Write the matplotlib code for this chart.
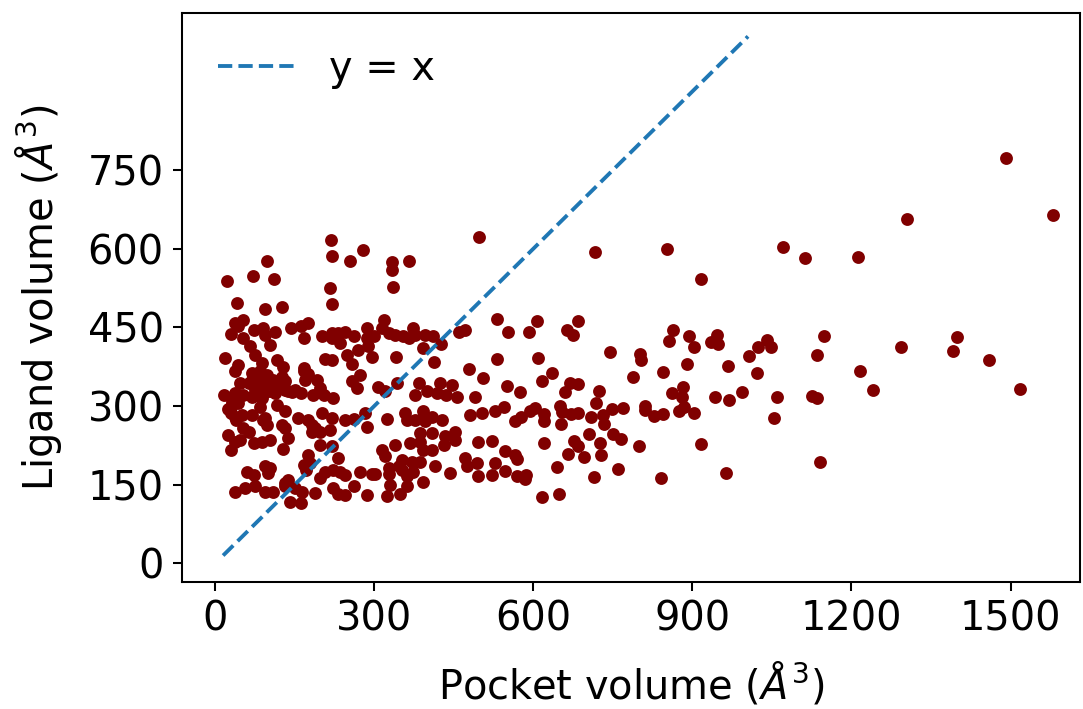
import numpy as np
import matplotlib
matplotlib.use("Agg")
import matplotlib.pyplot as plt

# pocket volume vs ligand volume (A^3)
pocket_volume = [
    # upper left group
    218, 220, 97, 72, 23, 111, 216, 42, 94, 126, 220, 53, 44, 30, 53, 73, 91, 94,
    113, 104, 66, 76, 144, 161, 176, 167, 201, 220, 18, 44, 88, 117, 128, 167, 208, 220,
    # dense lower left group
    38, 69, 85, 97, 126, 167, 47, 63, 79, 94, 110, 132, 151, 170, 192, 198, 16, 38, 53, 76,
    104, 123, 138, 161, 185, 205, 223, 29, 44, 85, 117, 132, 29, 40, 69, 91, 97, 157, 176, 188,
    201, 220, 53, 132, 182, 198, 216, 25, 47, 63, 38, 73, 88, 104, 138, 29, 128, 198, 220, 176,
    179, 94, 104, 60, 73, 100, 172, 208, 198, 138, 223, 167, 38, 56, 76, 94, 110, 132, 151, 164,
    188, 141, 161, 132, 223,
    # hidden in the blob
    85, 69, 110, 94, 31, 44, 69, 88, 113, 132, 145, 176, 25, 38, 50, 94, 126, 182, 38, 220,
    # 230 - 500, upper part
    498, 279, 255, 333, 333, 366, 335, 319, 286, 314, 327, 340, 355, 374, 377, 396, 411, 232,
    245, 262, 286, 299, 289, 236, 365, 459, 472, 426, 392, 270, 248, 258, 296, 341, 413, 478,
    # 230 - 500, lower part
    273, 258, 267, 308, 320, 343, 384, 377, 399, 418, 424, 446, 436, 456, 506, 490, 245, 262,
    283, 286, 324, 358, 361, 377, 392, 409, 396, 428, 481, 503, 387, 409, 434, 452, 368, 387,
    340, 314, 320, 392, 409, 431, 452, 496, 232, 352, 371, 387, 415, 327, 346, 472, 475, 494,
    236, 245, 273, 296, 302, 327, 352, 361, 374, 392, 443, 496, 262, 330, 361, 232, 245, 286,
    324, 349,
    # 500 - 930
    716, 853, 917, 531, 553, 591, 607, 663, 674, 685, 864, 856, 894, 904, 745, 801, 804, 531,
    608, 889, 844, 789, 635, 617, 550, 575, 669, 684, 660, 724, 882, 861, 880, 719, 528, 544,
    566, 577, 594, 604, 620, 621, 651, 655, 671, 685, 653, 709, 732, 734, 748, 770, 810, 810,
    827, 845, 875, 885, 904, 706, 751, 765, 726, 677, 684, 522, 547, 566, 570, 527, 621, 666,
    695, 728, 799, 917, 522, 547, 570, 586, 585, 644, 715, 759, 840, 616, 649,
    # 930 and up
    1491, 1581, 1304, 1071, 1112, 1212, 946, 936, 949, 1148, 1041, 1024, 1048, 1006, 1136,
    1293, 1399, 1391, 1460, 968, 1022, 1216, 1241, 1517, 943, 970, 994, 1060, 1126, 1136,
    1054, 1140, 964,
]
ligand_volume = [
    # upper left group
    616, 587, 577, 549, 539, 543, 525, 497, 486, 489, 494, 465, 452, 438, 430, 445, 449, 436,
    442, 417, 414, 398, 449, 452, 458, 430, 433, 430, 391, 379, 382, 388, 375, 372, 390, 388,
    # dense lower left group
    366, 363, 366, 360, 356, 366, 344, 344, 341, 341, 337, 347, 331, 350, 350, 334, 321, 325, 321, 331,
    328, 334, 328, 325, 321, 321, 315, 299, 306, 299, 302, 290, 286, 274, 283, 274, 264, 277, 274, 258,
    286, 277, 258, 258, 251, 251, 255, 245, 236, 251, 232, 229, 232, 236, 239, 216, 218, 226, 223, 207,
    191, 185, 181, 175, 169, 172, 178, 175, 162, 159, 178, 188, 137, 143, 147, 137, 137, 147, 143, 137,
    134, 118, 115, 153, 143,
    # hidden in the blob
    356, 350, 350, 327, 308, 318, 318, 315, 324, 330, 327, 362, 295, 280, 283, 277, 264, 264, 458, 439,
    # 230 - 500, upper part
    623, 597, 576, 574, 560, 577, 527, 465, 449, 449, 439, 436, 433, 449, 436, 436, 433, 439,
    442, 433, 430, 433, 414, 420, 430, 442, 445, 419, 410, 407, 398, 381, 393, 393, 385, 370,
    # 230 - 500, lower part
    360, 347, 334, 337, 328, 344, 344, 321, 328, 325, 344, 341, 321, 318, 353, 318, 274, 275,
    286, 261, 275, 286, 274, 274, 290, 280, 271, 274, 283, 286, 248, 248, 242, 251, 229, 232,
    226, 216, 204, 216, 216, 226, 236, 232, 201, 197, 194, 194, 185, 181, 185, 201, 185, 191,
    175, 169, 175, 171, 171, 171, 178, 166, 175, 156, 172, 166, 148, 150, 147, 132, 131, 131,
    129, 132,
    # 500 - 930
    593, 599, 543, 466, 442, 442, 463, 445, 436, 463, 445, 424, 434, 412, 403, 399, 388, 389,
    391, 380, 365, 356, 364, 347, 339, 326, 344, 342, 326, 329, 337, 325, 318, 306, 291, 298,
    272, 279, 290, 297, 285, 271, 301, 288, 285, 286, 265, 279, 283, 266, 295, 296, 300, 293,
    282, 285, 291, 299, 286, 246, 246, 237, 229, 234, 223, 234, 215, 207, 200, 192, 229, 209,
    203, 207, 223, 227, 169, 177, 167, 169, 160, 183, 164, 180, 162, 126, 132,
    # 930 and up
    774, 665, 657, 603, 582, 585, 436, 423, 418, 433, 426, 412, 412, 396, 398,
    412, 431, 405, 388, 377, 363, 367, 330, 332, 318, 312, 326, 318, 320, 315,
    277, 194, 172,
]

# reference line
line_x = [15, 1005]
line_y = [15, 1005]

plt.rcParams['font.size'] = 15.5

fig = plt.figure(figsize=(1083 / 185, 709 / 185), dpi=185)
ax = fig.add_axes([0.1678, 0.1795, 0.9972 - 0.1678, 0.9812 - 0.1795])

ax.scatter(pocket_volume, ligand_volume, s=16, color='maroon')
ax.plot(line_x, line_y, '--', color='tab:blue', linewidth=1.5, label='y = x')

ax.set_xlim(-63, 1631)
ax.set_ylim(-35, 1049)
ax.set_xticks([0, 300, 600, 900, 1200, 1500])
ax.set_yticks([0, 150, 300, 450, 600, 750])

ax.set_xlabel(r'Pocket volume ($\AA^3$)', labelpad=8)
ax.set_ylabel(r'Ligand volume ($\AA^3$)', labelpad=9)
ax.legend(loc='upper left', frameon=False)

fig.savefig('out.png', dpi=185)
